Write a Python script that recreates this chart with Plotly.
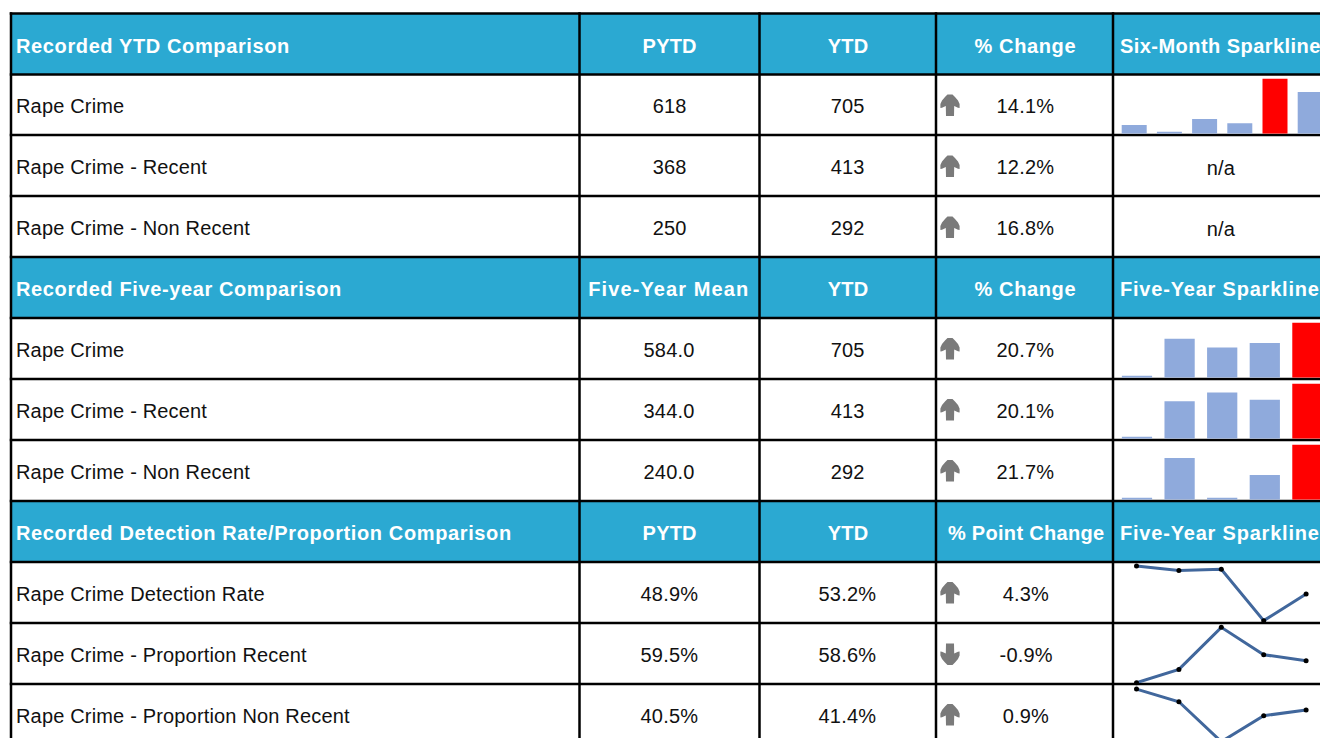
import json
import plotly.graph_objects as go

W, H = 1320, 738

# ---------- data ----------
section_titles = ["Recorded YTD Comparison", "Recorded Five-year Comparison", "Recorded Detection Rate/Proportion Comparison"]
section_col2 = ["PYTD", "Five-Year Mean", "PYTD"]
section_col3 = ["YTD", "YTD", "YTD"]
section_col4 = ["% Change", "% Change", "% Point Change"]
section_col5 = ["Six-Month Sparkline", "Five-Year Sparkline", "Five-Year Sparkline"]

labels_ytd = ["Rape Crime", "Rape Crime - Recent", "Rape Crime - Non Recent"]
pytd_ytd = ["618", "368", "250"]
ytd_ytd = ["705", "413", "292"]
change_ytd = ["14.1%", "12.2%", "16.8%"]

labels_five = ["Rape Crime", "Rape Crime - Recent", "Rape Crime - Non Recent"]
mean_five = ["584.0", "344.0", "240.0"]
ytd_five = ["705", "413", "292"]
change_five = ["20.7%", "20.1%", "21.7%"]

labels_rate = ["Rape Crime Detection Rate", "Rape Crime - Proportion Recent", "Rape Crime - Proportion Non Recent"]
pytd_rate = ["48.9%", "59.5%", "40.5%"]
ytd_rate = ["53.2%", "58.6%", "41.4%"]
change_rate = ["4.3%", "-0.9%", "0.9%"]

# bar sparklines: relative height, tallest bar = 100
six_month_bars = [16, 3, 27, 19, 100, 76]
six_month_red = 4
five_year_rape = [2.4, 71, 55, 63, 100]
five_year_recent = [2.4, 68, 84, 71, 100]
five_year_non_recent = [2, 76, 2.4, 45, 100]
five_year_red = 4

# line sparklines: percentages
years_idx = [0, 1, 2, 3, 4]
detection_rate = [57.7, 57.0, 57.2, 48.9, 53.2]
proportion_recent = [55.3, 57.3, 63.6, 59.5, 58.6]
proportion_non_recent = [44.7, 42.7, 36.4, 40.5, 41.4]

# ---------- style / layout constants ----------
HEADER = "#2BA9D2"
BAR = "#8FAADC"
RED = "#FF0000"
LINE = "#41679C"
ARROW = "#7A7A7A"
FONT = "Liberation Sans"
FS = 20

H_LINES = [13.5, 74.5, 135, 196, 257, 318, 379, 440, 501, 562, 623, 684]
V_LINES = [11, 579.5, 759.5, 936, 1113]
COL2, COL3, COL4, COL5 = 669, 847.5, 1025.5, 1221
LEFT_TEXT = 13.8
SPARK_TEXT = 1118
SPACING = {"Six-Month Sparkline": 0.45, "Five-Year Sparkline": 0.8,
           "Five-Year Mean": 1.1, "% Point Change": 0.3, "PYTD": 0.2, "YTD": 0.2}


def px(x):
    return x / W


def py(y):
    return 1 - y / H


shapes = []
annotations = []


def text(x, y, s, anchor="center", bold=False):
    annotations.append(dict(
        x=px(x), y=py(y), xref="paper", yref="paper", text=s, showarrow=False,
        xanchor=anchor, yanchor="middle", align=anchor,
        font=dict(family=FONT, size=FS, color="#FFFFFF" if bold else "#111111",
                  weight="bold" if bold else "normal"),
    ))


def rect(x0, y0, x1, y1, color):
    shapes.append(dict(type="rect", xref="paper", yref="paper", x0=px(x0), x1=px(x1),
                       y0=py(y0), y1=py(y1), fillcolor=color, line_width=0, layer="below"))


def arrow(cy, up):
    s = -1 if up else 1
    half = [(2.5, 11), (5, 8.5), (8, 5), (9.6, 1.5), (9.6, -2.5), (8, -2.2), (4.2, -0.5), (4, -10.6)]
    pts = half + [(-dx, dy) for dx, dy in reversed(half)]
    d = ""
    for i, (dx, dy) in enumerate(pts):
        d += ("M" if i == 0 else "L") + f"{px(950 + dx):.5f},{py(cy + s * dy):.5f} "
    shapes.append(dict(type="path", path=d + "Z", xref="paper", yref="paper",
                       fillcolor=ARROW, line_width=0, layer="above"))


# headers
for i in range(3):
    top, bottom = H_LINES[i * 4], H_LINES[i * 4 + 1]
    cy = (top + bottom) / 2 + 1.5
    rect(V_LINES[0], top, W, bottom, HEADER)
    text(LEFT_TEXT, cy, section_titles[i], "left", True)
    text(COL2, cy, section_col2[i], bold=True)
    text(COL3, cy, section_col3[i], bold=True)
    text(COL4, cy, section_col4[i], bold=True)
    text(SPARK_TEXT, cy, section_col5[i], "left", True)

# body rows
sections = [
    (labels_ytd, pytd_ytd, ytd_ytd, change_ytd),
    (labels_five, mean_five, ytd_five, change_five),
    (labels_rate, pytd_rate, ytd_rate, change_rate),
]
for i, (lab, a, b, c) in enumerate(sections):
    for j in range(3):
        cy = H_LINES[i * 4 + 1] + 61 * j + 31.8
        text(LEFT_TEXT, cy, lab[j], "left")
        text(COL2, cy, a[j])
        text(COL3, cy, b[j])
        text(COL4, cy, c[j])
        arrow(cy - 0.8, not c[j].startswith("-"))

text(COL5, 167.8, "n/a")
text(COL5, 228.8, "n/a")

# grid
for y in H_LINES:
    shapes.append(dict(type="line", xref="paper", yref="paper", x0=px(V_LINES[0] - 1.25), x1=1,
                       y0=py(y), y1=py(y), line=dict(color="#000000", width=2.5), layer="below"))
for x in V_LINES:
    shapes.append(dict(type="line", xref="paper", yref="paper", x0=px(x), x1=px(x),
                       y0=py(H_LINES[0] - 1.25), y1=0, line=dict(color="#000000", width=2.5), layer="below"))

fig = go.Figure()
axis_n = 0


def new_axes(y_top, y_bottom, xrange, yrange):
    global axis_n
    axis_n += 1
    sfx = "" if axis_n == 1 else str(axis_n)
    common = dict(visible=False, fixedrange=True)
    fig.layout["xaxis" + sfx] = dict(domain=[px(1114.5), 1], range=xrange, anchor="y" + sfx, **common)
    fig.layout["yaxis" + sfx] = dict(domain=[py(y_bottom), py(y_top)], range=yrange, anchor="x" + sfx, **common)
    return "x" + sfx, "y" + sfx


def bar_spark(values, red, cell_bottom, first, step):
    base = cell_bottom - 1.25
    xr = [(1114.5 - first) / step, (W - first) / step]
    xa, ya = new_axes(base - 58, base, xr, [0, 58 / 0.55])
    fig.add_trace(go.Bar(x=list(range(len(values))), y=values, width=0.71, xaxis=xa, yaxis=ya,
                         marker=dict(color=[RED if k == red else BAR for k in range(len(values))],
                                     line_width=0),
                         hoverinfo="skip", showlegend=False))


def line_spark(values, y_top, y_bottom, yr):
    first, step = 1136.5, 42.4
    xr = [(1114.5 - first) / step, (W - first) / step]
    xa, ya = new_axes(y_top, y_bottom, xr, yr)
    fig.add_trace(go.Scatter(x=years_idx, y=values, mode="lines+markers", xaxis=xa, yaxis=ya,
                             line=dict(color=LINE, width=3), marker=dict(color="#000000", size=5),
                             cliponaxis=False, hoverinfo="skip", showlegend=False))


bar_spark(six_month_bars, six_month_red, 135, 1134.2, 35.2)
bar_spark(five_year_rape, five_year_red, 379, 1137, 42.6)
bar_spark(five_year_recent, five_year_red, 440, 1137, 42.6)
bar_spark(five_year_non_recent, five_year_red, 501, 1137, 42.6)
line_spark(detection_rate, 563, 622, [48.68, 58.2])
line_spark(proportion_recent, 624, 683, [55.26, 64.1])
line_spark(proportion_non_recent, 685, 738, [36.98, 45.35])

fig.update_layout(
    width=W, height=H, autosize=False, margin=dict(l=0, r=0, t=0, b=0, pad=0),
    paper_bgcolor="#FFFFFF", plot_bgcolor="rgba(0,0,0,0)", barmode="overlay",
    shapes=shapes, annotations=annotations, showlegend=False,
    font=dict(family=FONT),
)

post = """
var spacing = %s;
document.body.style.margin='0';document.body.style.overflow='hidden';
document.querySelectorAll('.annotation-text').forEach(function(t){
  var bold = (t.style.fontWeight||'').toString().match(/bold|700/);
  var sp = bold ? (spacing[t.textContent] !== undefined ? spacing[t.textContent] : 0.62) : 0.17;
  t.style.letterSpacing = sp + 'px';
});
""" % json.dumps(SPACING)
fig.write_html("out.html", config=dict(displayModeBar=False), post_script=post)
